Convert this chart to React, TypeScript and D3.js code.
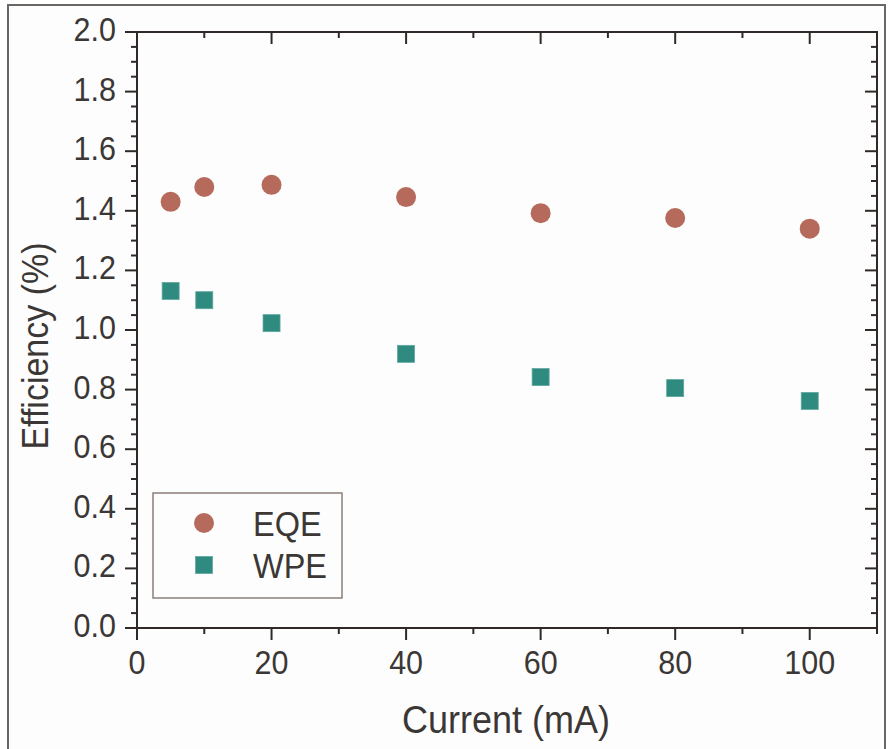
import React from 'react';
import * as d3 from 'd3';

const currents = [5, 10, 20, 40, 60, 80, 100];
const eqe = [1.43, 1.48, 1.487, 1.446, 1.392, 1.376, 1.34];
const wpe = [1.131, 1.1, 1.023, 0.92, 0.842, 0.805, 0.762];
const xTicks = [0, 20, 40, 60, 80, 100];
const yTicks = [0, 0.2, 0.4, 0.6, 0.8, 1.0, 1.2, 1.4, 1.6, 1.8, 2.0];
const seriesNames = ['EQE', 'WPE'];

const W = 894;
const H = 749;
const plot = { left: 137, top: 32, right: 877, bottom: 628 };
const textColor = '#3b3735';
const axisColor = '#2f2a28';
const eqeColor = '#b66a5c';
const wpeColor = '#2f8a80';
const font = '"Liberation Sans", Arial, sans-serif';

// text is slightly taller than wide in the source picture
const tall = (tx: number, ty: number) => `translate(${tx},${ty}) scale(1,1.08)`;

export default function App() {
  const x = d3.scaleLinear().domain([0, 110]).range([plot.left, plot.right]);
  const y = d3.scaleLinear().domain([0, 2]).range([plot.bottom, plot.top]);

  const xMinor = d3.range(10, 111, 20);
  const yMinor = d3.range(0, 2.001, 0.05).filter(v => Math.abs(Math.round(v * 5) - v * 5) > 1e-6);

  const sq = 17;
  const r = 10;

  return (
    <div style={{ position: 'absolute', left: 0, top: 0 }}>
      <svg width={W} height={H} style={{ display: 'block', fontFamily: font }}>
        <rect x={0} y={0} width={W} height={H} fill="#ffffff" />
        {/* outer frame */}
        <rect x={8} y={5} width={877} height={760} fill="#fdfdfd" stroke="#6a6664" strokeWidth={2} />

        {/* plot box */}
        <rect x={plot.left} y={plot.top} width={plot.right - plot.left} height={plot.bottom - plot.top}
          fill="none" stroke={axisColor} strokeWidth={2} />

        {/* y ticks left (outward) and right (inward) */}
        {yTicks.map(v => (
          <g key={'yt' + v}>
            <line x1={plot.left - 12} x2={plot.left} y1={y(v)} y2={y(v)} stroke={axisColor} strokeWidth={2} />
            <line x1={plot.right - 12} x2={plot.right} y1={y(v)} y2={y(v)} stroke={axisColor} strokeWidth={2} />
            <text transform={tall(116, y(v) + 9)} textAnchor="end" fontSize={30.5} fill={textColor}>
              {d3.format('.1f')(v)}
            </text>
          </g>
        ))}
        {yMinor.map(v => (
          <g key={'ym' + v}>
            <line x1={plot.left - 6} x2={plot.left} y1={y(v)} y2={y(v)} stroke={axisColor} strokeWidth={2} />
            <line x1={plot.right - 6} x2={plot.right} y1={y(v)} y2={y(v)} stroke={axisColor} strokeWidth={2} />
          </g>
        ))}

        {/* x ticks bottom (outward) and top (inward) */}
        {xTicks.map(v => (
          <g key={'xt' + v}>
            <line x1={x(v)} x2={x(v)} y1={plot.bottom} y2={plot.bottom + 12} stroke={axisColor} strokeWidth={2} />
            <line x1={x(v)} x2={x(v)} y1={plot.top} y2={plot.top + 12} stroke={axisColor} strokeWidth={2} />
            <text transform={tall(x(v), 674)} textAnchor="middle" fontSize={30.5} fill={textColor}>{v}</text>
          </g>
        ))}
        {xMinor.map(v => (
          <g key={'xm' + v}>
            <line x1={x(v)} x2={x(v)} y1={plot.bottom} y2={plot.bottom + 6} stroke={axisColor} strokeWidth={2} />
            <line x1={x(v)} x2={x(v)} y1={plot.top} y2={plot.top + 6} stroke={axisColor} strokeWidth={2} />
          </g>
        ))}

        {/* axis titles */}
        <text transform={tall(506, 733)} textAnchor="middle" fontSize={36} fill={textColor}>Current (mA)</text>
        <text transform="translate(48,346) rotate(-90) scale(1,1.08)" textAnchor="middle" fontSize={34} fill={textColor}>
          Efficiency (%)
        </text>

        {/* data */}
        {currents.map((c, i) => (
          <circle key={'e' + c} cx={x(c)} cy={y(eqe[i])} r={r} fill={eqeColor} />
        ))}
        {currents.map((c, i) => (
          <rect key={'w' + c} x={x(c) - sq / 2} y={y(wpe[i]) - sq / 2} width={sq} height={sq}
            fill={wpeColor} stroke="#5fa89e" strokeWidth={0.8} />
        ))}

        {/* legend */}
        <rect x={153} y={493} width={189} height={105} fill="none" stroke="#8a7f7a" strokeWidth={1.5} />
        <circle cx={204} cy={523} r={r} fill={eqeColor} />
        <rect x={204 - sq / 2} y={565 - sq / 2} width={sq} height={sq} fill={wpeColor} stroke="#5fa89e" strokeWidth={0.8} />
        <text transform={tall(253, 536)} fontSize={32.5} fill={textColor}>{seriesNames[0]}</text>
        <text transform={tall(253, 578)} fontSize={32.5} fill={textColor}>{seriesNames[1]}</text>
      </svg>
    </div>
  );
}
